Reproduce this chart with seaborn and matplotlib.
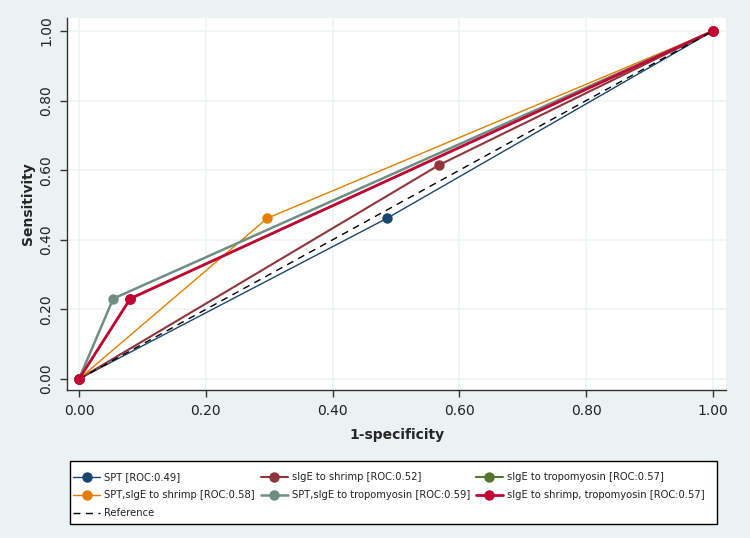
import matplotlib
matplotlib.use("Agg")
import matplotlib.pyplot as plt
from matplotlib.patches import Rectangle
import seaborn as sns
import pandas as pd

# ---- data ----
series_names = [
    "SPT [ROC:0.49]",
    "sIgE to shrimp [ROC:0.52]",
    "sIgE to tropomyosin [ROC:0.57]",
    "SPT,sIgE to shrimp [ROC:0.58]",
    "SPT,sIgE to tropomyosin [ROC:0.59]",
    "sIgE to shrimp, tropomyosin [ROC:0.57]",
]
fpr_spt = [0.0, 0.486, 1.0]
sens_spt = [0.0, 0.462, 1.0]
fpr_shrimp = [0.0, 0.568, 1.0]
sens_shrimp = [0.0, 0.615, 1.0]
fpr_tropo = [0.0, 0.081, 1.0]
sens_tropo = [0.0, 0.231, 1.0]
fpr_spt_shrimp = [0.0, 0.297, 1.0]
sens_spt_shrimp = [0.0, 0.462, 1.0]
fpr_spt_tropo = [0.0, 0.054, 1.0]
sens_spt_tropo = [0.0, 0.231, 1.0]
fpr_shrimp_tropo = [0.0, 0.081, 1.0]
sens_shrimp_tropo = [0.0, 0.231, 1.0]
ref_x = [0.0, 1.0]
ref_y = [0.0, 1.0]
ticks = [0.0, 0.2, 0.4, 0.6, 0.8, 1.0]
tick_labels = ["0.00", "0.20", "0.40", "0.60", "0.80", "1.00"]

colors = ["#1a476f", "#90353b", "#55752f", "#e37e00", "#6e8e84", "#c10534"]
widths = [1.0, 1.5, 1.5, 1.0, 1.8, 2.0]

xs = [fpr_spt, fpr_shrimp, fpr_tropo, fpr_spt_shrimp, fpr_spt_tropo, fpr_shrimp_tropo]
ys = [sens_spt, sens_shrimp, sens_tropo, sens_spt_shrimp, sens_spt_tropo, sens_shrimp_tropo]

sns.set_theme(style="white")
plt.rcParams["font.family"] = ["DejaVu Sans"]

fig = plt.figure(figsize=(7.5, 5.38), dpi=100)
fig.patch.set_facecolor("#eaf2f3")
ax = fig.add_axes([67 / 750, 1 - 390 / 538, (726 - 67) / 750, (390 - 18) / 538])
ax.set_facecolor("white")

for name, x, y, c, w in zip(series_names, xs, ys, colors, widths):
    df = pd.DataFrame({"x": x, "y": y})
    sns.lineplot(data=df, x="x", y="y", ax=ax, color=c, linewidth=w, sort=False,
                 marker="o", markersize=7.5, markeredgewidth=0, label=name,
                 estimator=None)

dref = pd.DataFrame({"x": ref_x, "y": ref_y})
sns.lineplot(data=dref, x="x", y="y", ax=ax, color="black", linewidth=1.0,
             linestyle=(0, (5, 4)), label="Reference", estimator=None, sort=False)
# redraw red markers on top so they show at the ends
df_red = pd.DataFrame({"x": fpr_shrimp_tropo, "y": sens_shrimp_tropo})
sns.lineplot(data=df_red, x="x", y="y", ax=ax, color=colors[5], linewidth=0,
             marker="o", markersize=7.5, markeredgewidth=0, estimator=None,
             sort=False, legend=False)

ax.set_xlim((67 - 79) / 634, (726 - 79) / 634)
ax.set_ylim((379 - 390) / 348, (379 - 18) / 348)
ax.set_xticks(ticks)
ax.set_xticklabels(tick_labels, fontsize=10)
ax.set_yticks(ticks)
ax.set_yticklabels(tick_labels, fontsize=10, rotation=90, va="center")
ax.grid(True, color="#eef3f5", linewidth=1.2)
ax.set_axisbelow(True)
for s in ["top", "right"]:
    ax.spines[s].set_visible(False)
for s in ["left", "bottom"]:
    ax.spines[s].set_color("#333333")
    ax.spines[s].set_linewidth(1.0)
ax.tick_params(axis="both", which="major", length=5, width=1, color="#333333",
               bottom=True, left=True, labelcolor="#222222", pad=5)
ax.set_xlabel("1-specificity", fontsize=10, fontweight="bold", labelpad=7)
ax.set_ylabel("Sensitivity", fontsize=10, fontweight="bold", labelpad=3)

# legend box
fig.patches.append(Rectangle((70 / 750, 1 - 524 / 538), 647 / 750, 63 / 538,
                             transform=fig.transFigure, facecolor="white",
                             edgecolor="black", linewidth=1.0, zorder=0))

h, l = ax.get_legend_handles_labels()
ax.get_legend().remove()
order = [0, 3, 6, 1, 4, 2, 5]
leg = fig.legend([h[i] for i in order], [l[i] for i in order], ncol=3,
                 loc="upper left",
                 bbox_to_anchor=(73 / 750, 1 - 472 / 538),
                 fontsize=7.2, frameon=False,
                 handlelength=2.7, handletextpad=0.4, borderpad=0,
                 labelspacing=0.8, columnspacing=0.6, borderaxespad=0)
for t in leg.get_texts():
    t.set_color("#222222")

fig.savefig("out.png", dpi=100, facecolor=fig.get_facecolor())
